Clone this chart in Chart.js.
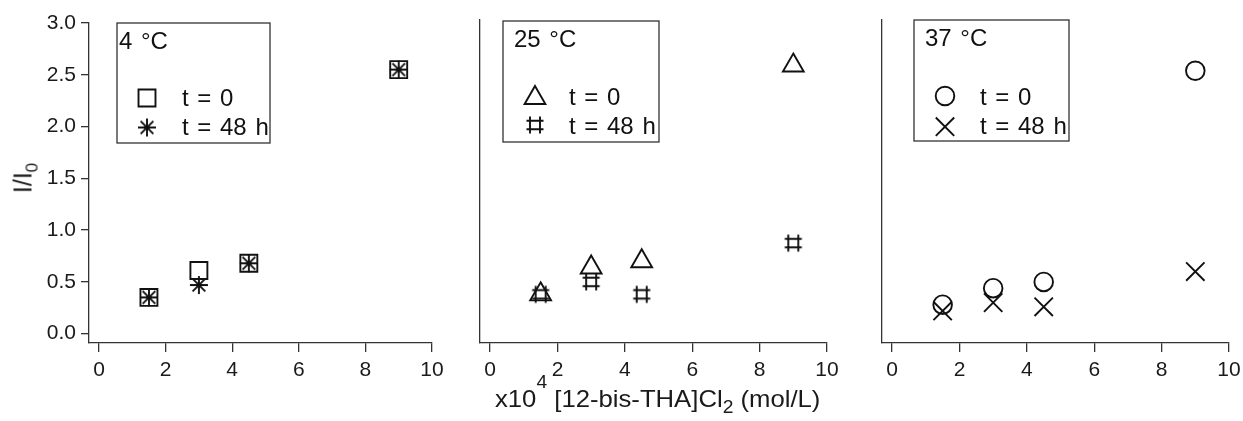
<!DOCTYPE html>
<html>
<head>
<meta charset="utf-8">
<script src="https://cdn.jsdelivr.net/npm/chart.js@4.4.1/dist/chart.umd.min.js"></script>
<style>
  body { margin: 0; background: #fff; }
  #wrap { position: relative; width: 1243px; height: 421px; overflow: hidden;
          font-family: "Liberation Sans", Arial, sans-serif; color: #1a1a1a; }
  #wrap canvas { position: absolute; top: 0; }
  #ytitle { position: absolute; left: 23px; top: 178px; font-size: 25px; line-height: 1;
            white-space: nowrap; transform: translate(-50%, -50%) rotate(-90deg); }
  #xtitle { position: absolute; left: 495px; top: 387px; font-size: 24px; line-height: 24px; white-space: nowrap;
            transform: scaleX(1.07); transform-origin: 0 0; }
  .sup, .sub { position: relative; font-size: 18px; }
  .sup { top: -19px; }
  .sub { top: 6px; }
  #ytitle .sub { font-size: 17px; top: 6px; }
</style>
</head>
<body>
<div id="wrap">
  <canvas id="p1"></canvas>
  <canvas id="p2"></canvas>
  <canvas id="p3"></canvas>
  <div id="ytitle">I/I<span class="sub">0</span></div>
  <div id="xtitle">x10<span class="sup">4</span> [12-bis-THA]Cl<span class="sub">2</span> (mol/L)</div>
</div>
<script>
// data
const concentration = [1.5, 3, 4.5, 9];
const cold0 = [0.35, 0.61, 0.68, 2.55];
const cold48 = [0.35, 0.47, 0.68, 2.55];
const room0 = [0.38, 0.64, 0.70, 2.59];
const room48 = [0.38, 0.50, 0.38, 0.875];
const warm0 = [0.28, 0.44, 0.50, 2.54];
const warm48 = [0.22, 0.30, 0.26, 0.60];
const xTicks = [0, 2, 4, 6, 8, 10];
const yTicks = [0, 0.5, 1, 1.5, 2, 2.5, 3];
const panelTitles = ["4 °C", "25 °C", "37 °C"];
const seriesLabels = ["t = 0", "t = 48 h"];

const INK = "#111";
const AXIS = "#333";
const FONT = '"Liberation Sans", Arial, sans-serif';
const H = 421;

// markers the library does not have
function makeMark(size, draw) {
    const c = document.createElement("canvas");
    c.width = size; c.height = size;
    const g = c.getContext("2d");
    g.strokeStyle = INK; g.fillStyle = INK; g.lineWidth = 1.9;
    draw(g, size / 2);
    return c;
}
const asterisk = makeMark(22, (g, m) => {
    g.beginPath();
    for (let k = 0; k < 4; k++) {
        const a = k * Math.PI / 4;
        g.moveTo(m + Math.cos(a) * 9, m + Math.sin(a) * 9);
        g.lineTo(m - Math.cos(a) * 9, m - Math.sin(a) * 9);
    }
    g.stroke();
    g.beginPath(); g.arc(m, m, 2.2, 0, Math.PI * 2); g.fill();
});
const hash = makeMark(20, (g, m) => {
    g.beginPath();
    [-5, 5].forEach(d => { g.moveTo(m + d, m - 8.5); g.lineTo(m + d, m + 8.5); });
    [-4.3, 4.3].forEach(d => { g.moveTo(m - 8.5, m + d); g.lineTo(m + 8.5, m + d); });
    g.stroke();
});

const toPoints = vals => concentration.map((x, i) => ({ x: x, y: vals[i] }));

function drawSpaced(ctx, text, x, y) {
    const sp = ctx.measureText(" ").width + 2;
    text.split(" ").forEach(w => { ctx.fillText(w, x, y); x += ctx.measureText(w).width + sp; });
}

const legendBox = {
    id: "legendBox",
    afterDraw(chart, args, L) {
        const ctx = chart.ctx;
        ctx.save();
        ctx.strokeStyle = AXIS; ctx.lineWidth = 1.3;
        ctx.strokeRect(L.x, L.y, L.w, L.h);
        ctx.font = "24px " + FONT;
        ctx.textBaseline = "alphabetic";
        ctx.fillStyle = INK;
        drawSpaced(ctx, L.title, L.titleX, L.titleY);
        chart.data.datasets.forEach((ds, i) => {
            ctx.fillStyle = "rgba(0,0,0,0)";
            ctx.strokeStyle = INK;
            ctx.lineWidth = ds.pointBorderWidth;
            Chart.helpers.drawPoint(ctx, { pointStyle: ds.pointStyle, radius: ds.pointRadius, rotation: 0, borderWidth: ds.pointBorderWidth }, L.markX, L.rows[i]);
            ctx.fillStyle = INK;
            drawSpaced(ctx, ds.label, L.textX, L.base[i]);
        });
        ctx.restore();
    }
};

const panels = [
    { id: "p1", left: 0, width: 460, area: { left: 89, right: 432, top: 23, bottom: 343 }, yMax: 3.0, yLabels: true,
      sets: [[cold0, "rect", 12], [cold48, asterisk, 10]],
      legend: { x: 117, y: 23, w: 153, h: 120, titleX: 119, titleY: 49, markX: 147, rows: [98, 127.5], textX: 182, base: [106, 135] } },
    { id: "p2", left: 440, width: 420, area: { left: 480, right: 827, top: 20, bottom: 343 }, yMax: 3.03, yLabels: false,
      sets: [[room0, "triangle", 12], [room48, hash, 10]],
      legend: { x: 503, y: 21, w: 156, h: 121, titleX: 514, titleY: 47, markX: 535, rows: [98, 125], textX: 569, base: [105, 133.5] } },
    { id: "p3", left: 845, width: 430, area: { left: 882, right: 1229, top: 20, bottom: 343 }, yMax: 3.03, yLabels: false,
      sets: [[warm0, "circle", 9.3], [warm48, "crossRot", 13]],
      legend: { x: 914, y: 20, w: 155, h: 121, titleX: 925, titleY: 46, markX: 945, rows: [96, 126.7], textX: 980, base: [104.5, 133.5] } }
];

panels.forEach((p, n) => {
    const cv = document.getElementById(p.id);
    cv.width = p.width; cv.height = H;
    cv.style.left = p.left + "px";
    const L = Object.assign({}, p.legend, { title: panelTitles[n] });
    L.x -= p.left; L.titleX -= p.left; L.markX -= p.left; L.textX -= p.left;
    const yWidth = p.yLabels ? p.area.left - p.left : 0;

    new Chart(cv, {
        type: "scatter",
        data: {
            datasets: p.sets.map((s, i) => ({
                label: seriesLabels[i],
                data: toPoints(s[0]),
                pointStyle: s[1],
                pointRadius: s[2],
                pointHoverRadius: s[2],
                pointBorderWidth: 1.9,
                borderColor: INK,
                backgroundColor: "rgba(0,0,0,0)",
                showLine: false
            }))
        },
        options: {
            responsive: false,
            animation: false,
            events: [],
            layout: { padding: { left: p.area.left - p.left - yWidth, right: p.left + p.width - p.area.right, top: p.area.top, bottom: 0 } },
            plugins: { legend: { display: false }, tooltip: { enabled: false }, legendBox: L },
            scales: {
                x: {
                    type: "linear", min: -0.3, max: 10,
                    afterBuildTicks: s => { s.ticks = xTicks.map(v => ({ value: v })); },
                    afterFit: s => { s.height = H - p.area.bottom; },
                    ticks: { color: "#1a1a1a", font: { size: 21, family: FONT }, padding: 6, maxRotation: 0, autoSkip: false, callback: v => String(v) },
                    grid: { drawOnChartArea: false, drawTicks: true, tickLength: 9, color: AXIS, lineWidth: 1.3 },
                    border: { display: true, color: AXIS, width: 1.3 }
                },
                y: {
                    type: "linear", min: -0.09, max: p.yMax,
                    afterBuildTicks: s => { s.ticks = yTicks.map(v => ({ value: v })); },
                    afterFit: s => { s.width = yWidth; },
                    ticks: { display: p.yLabels, color: "#1a1a1a", font: { size: 21, family: FONT }, padding: 5, callback: v => v.toFixed(1) },
                    grid: { drawOnChartArea: false, drawTicks: p.yLabels, tickLength: 8, color: AXIS, lineWidth: 1.3 },
                    border: { display: true, color: AXIS, width: 1.3 }
                }
            }
        },
        plugins: [legendBox]
    });
});
</script>
</body>
</html>
